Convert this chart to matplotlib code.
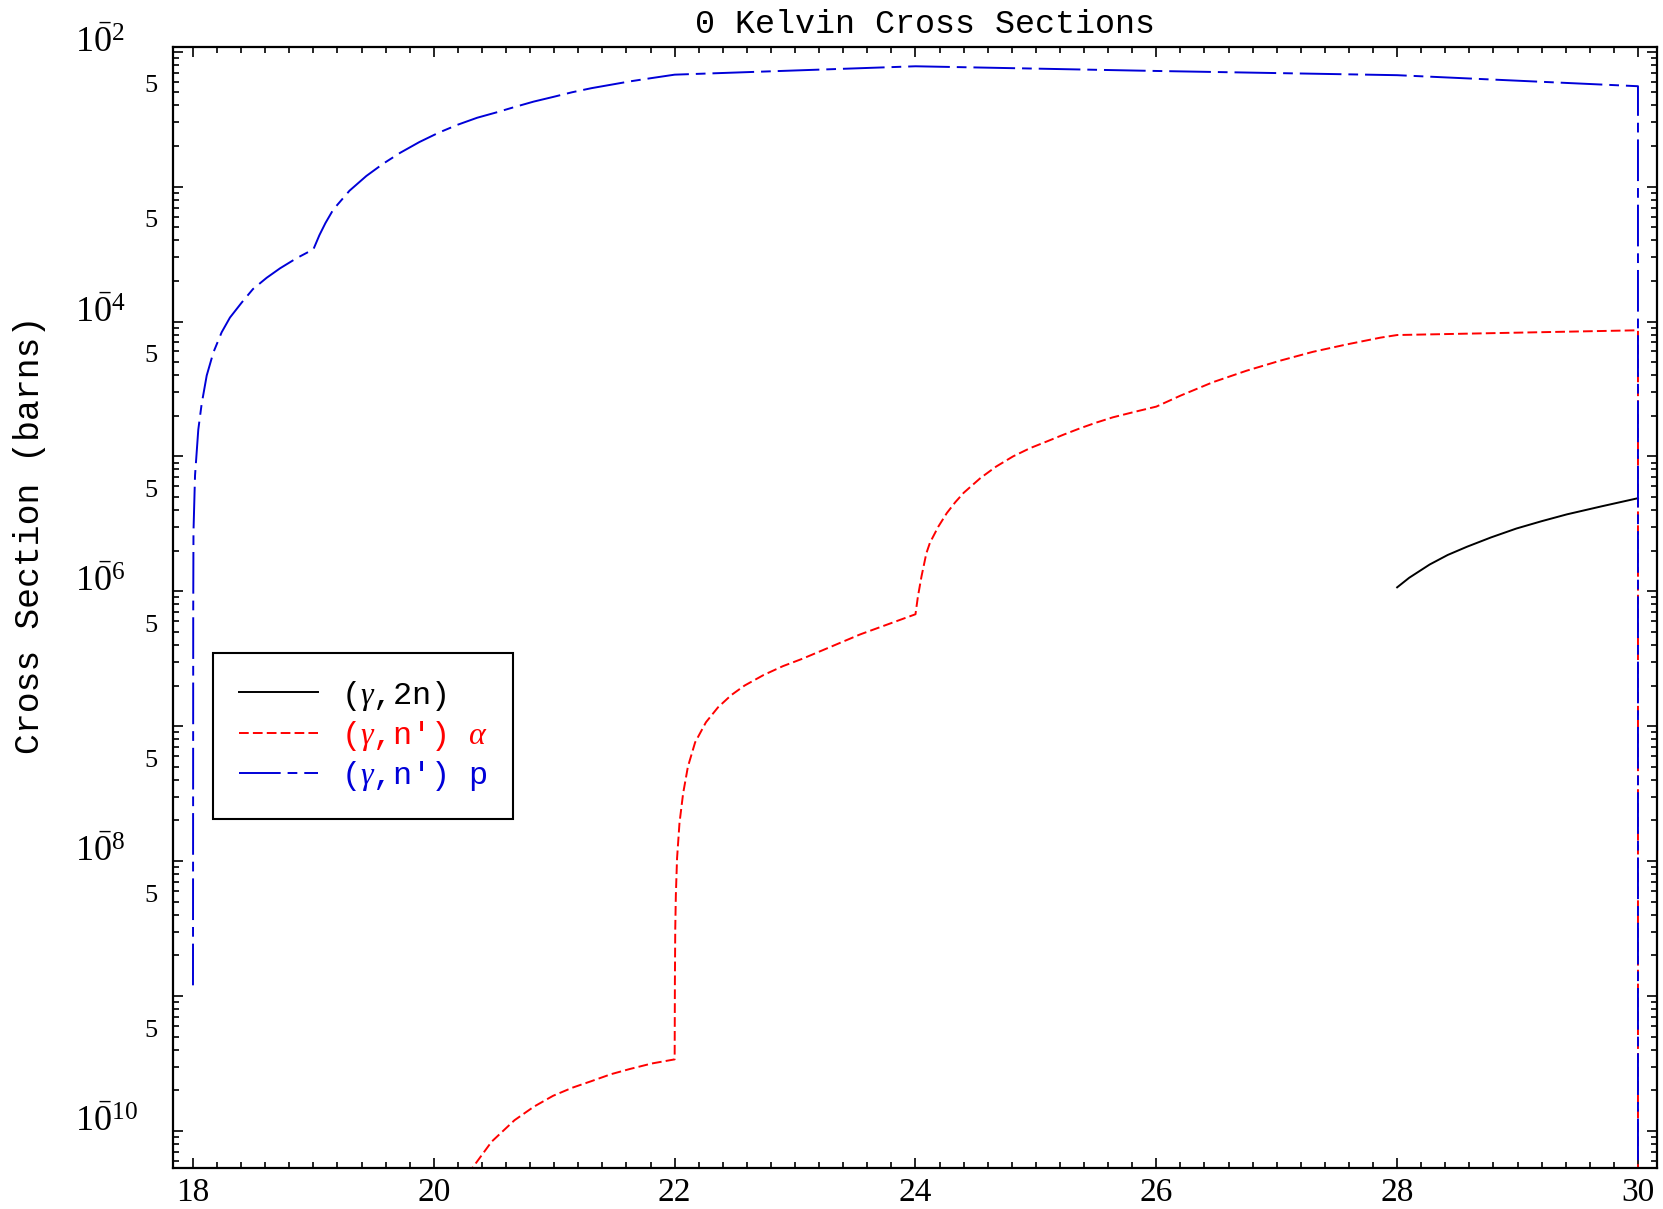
import matplotlib as mpl
mpl.use('Agg')
import matplotlib.pyplot as plt
import matplotlib.transforms as mtransforms
from matplotlib.ticker import LogLocator, MultipleLocator, NullFormatter, FixedLocator
import numpy as np

plt.rcdefaults()
plt.rcParams['mathtext.fontset'] = 'custom'
plt.rcParams['mathtext.it'] = 'Liberation Serif:italic'
plt.rcParams['mathtext.rm'] = 'Liberation Serif'
plt.rcParams['lines.scale_dashes'] = False

# photon energy vs cross section (barns)
x_2n = [28.0, 28.1, 28.27, 28.42, 28.58, 28.78, 28.99, 29.2, 29.41, 29.7, 30.0]
y_2n = [1.07e-6, 1.26e-6, 1.58e-6, 1.86e-6, 2.14e-6, 2.51e-6, 2.92e-6, 3.31e-6,
        3.72e-6, 4.27e-6, 4.90e-6]

x_alpha = [20.20, 20.32, 20.48, 20.67, 20.83, 20.99, 21.15, 21.31, 21.47, 21.63, 21.81, 22.00,
           22.002, 22.005, 22.01, 22.02, 22.04, 22.07, 22.11, 22.17, 22.26, 22.36, 22.47,
           22.58, 22.74, 22.90, 23.06, 23.22, 23.38, 23.54, 23.77, 24.00,
           24.02, 24.05, 24.09, 24.12, 24.19, 24.26, 24.33, 24.40, 24.54, 24.67, 24.81,
           24.95, 25.09, 25.23, 25.37, 25.50, 25.64, 25.82, 26.00,
           26.20, 26.47, 26.75, 27.03, 27.30, 27.58, 27.86, 28.00,
           30.00, 30.00]
y_alpha = [3.02e-11, 5.31e-11, 8.32e-11, 1.20e-10, 1.51e-10, 1.82e-10, 2.09e-10, 2.34e-10,
           2.63e-10, 2.88e-10, 3.16e-10, 3.39e-10,
           1.26e-9, 3.16e-9, 5.62e-9, 1.05e-8, 1.91e-8, 3.16e-8, 5.01e-8, 7.59e-8, 1.07e-7,
           1.38e-7, 1.70e-7, 2.00e-7, 2.40e-7, 2.79e-7, 3.16e-7, 3.63e-7, 4.17e-7, 4.79e-7,
           5.69e-7, 6.76e-7,
           9.12e-7, 1.29e-6, 1.91e-6, 2.29e-6, 3.02e-6, 3.80e-6, 4.57e-6, 5.37e-6, 6.92e-6,
           8.41e-6, 1.00e-5, 1.15e-5, 1.29e-5, 1.45e-5, 1.62e-5, 1.78e-5, 1.95e-5, 2.14e-5,
           2.34e-5,
           2.82e-5, 3.55e-5, 4.32e-5, 5.13e-5, 5.96e-5, 6.76e-5, 7.59e-5, 7.94e-5,
           8.61e-5, 1e-13]

x_p = [18.0, 18.002, 18.004, 18.017, 18.044, 18.072, 18.114, 18.169, 18.238,
       18.307, 18.404, 18.498, 18.612, 18.723, 18.861, 19.0,
       19.05, 19.10, 19.165, 19.30, 19.44, 19.58, 19.72, 19.88,
       20.04, 20.20, 20.36, 20.52, 20.67, 20.83, 20.99, 21.15, 21.31,
       21.47, 21.63, 21.81, 22.0,
       24.0, 26.0, 28.0, 30.0, 30.0]
y_p = [1.20e-9, 7.59e-7, 2.75e-6, 7.24e-6, 1.58e-5, 2.45e-5, 3.98e-5, 5.89e-5, 8.32e-5,
       1.07e-4, 1.38e-4, 1.74e-4, 2.11e-4, 2.48e-4, 2.95e-4, 3.43e-4,
       4.37e-4, 5.37e-4, 6.76e-4, 9.33e-4, 1.20e-3, 1.48e-3, 1.78e-3, 2.14e-3,
       2.51e-3, 2.88e-3, 3.24e-3, 3.55e-3, 3.89e-3, 4.27e-3, 4.62e-3, 5.01e-3, 5.37e-3,
       5.69e-3, 6.03e-3, 6.38e-3, 6.76e-3,
       7.8e-3, 7.2e-3, 6.7e-3, 5.55e-3, 1e-13]

labels = ['($\\gamma$,2n)', "($\\gamma$,n') $\\alpha$", "($\\gamma$,n') p"]
colors = ['black', '#ff0000', '#0000d8']

xmin, xmax = 17.834, 30.158
ymin, ymax = 10 ** -10.275, 10 ** -1.965

W, H = 1663, 1209
fig = plt.figure(figsize=(W / 100, H / 100), dpi=100)
ax = fig.add_axes([173 / W, 1 - 1168 / H, (1657 - 173) / W, (1168 - 47) / H])

ax.plot(x_2n, y_2n, color=colors[0], lw=1.4, label=labels[0])
ax.plot(x_alpha, y_alpha, color=colors[1], lw=1.4, linestyle=(0, (7, 3)), label=labels[1])
ax.plot(x_p, y_p, color=colors[2], lw=1.4, linestyle=(0, (30, 5, 7, 5)), label=labels[2])

ax.set_yscale('log')
ax.set_xlim(xmin, xmax)
ax.set_ylim(ymin, ymax)

ax.xaxis.set_major_locator(FixedLocator([18, 20, 22, 24, 26, 28, 30]))
ax.xaxis.set_minor_locator(MultipleLocator(0.2))
ax.yaxis.set_major_locator(LogLocator(base=10, numticks=30))
ax.yaxis.set_minor_locator(LogLocator(base=10, subs=np.arange(2, 10), numticks=30))
ax.yaxis.set_major_formatter(NullFormatter())
ax.yaxis.set_minor_formatter(NullFormatter())

ax.tick_params(which='both', direction='in', top=True, right=True, width=1.2)
ax.tick_params(which='major', length=7.5)
ax.tick_params(which='minor', length=4)
ax.tick_params(axis='x', labelsize=24, pad=7)
for lab in ax.get_xticklabels():
    lab.set_family('Liberation Serif')
for sp in ax.spines.values():
    sp.set_linewidth(1.6)

# IDL style log labels: 10^n on even decades, "5" inside each decade
ytrans = mtransforms.blended_transform_factory(ax.transAxes, ax.transData)
dec_trans = mtransforms.offset_copy(ytrans, fig=fig, x=-98, y=0, units='dots')
five_trans = mtransforms.offset_copy(ytrans, fig=fig, x=-16, y=0, units='dots')
for e in range(-10, -1, 2):
    ax.text(0, 10.0 ** e, '$\\mathregular{1\\bar{0}^{%d}}$' % (-e), fontsize=26,
            family='Liberation Serif', ha='left', va='baseline', transform=dec_trans)
for e in range(-10, -2):
    v = 5 * 10.0 ** e
    if ymin <= v <= ymax:
        ax.text(0, v, '5', fontsize=19, family='Liberation Serif', ha='right',
                va='baseline', transform=five_trans)

fig.text(925 / W, 1 - 33 / H, '0 Kelvin Cross Sections', fontsize=24,
         family='Liberation Mono', ha='center', va='baseline')
fig.text(30 / W, 1 - 535 / H, 'Cross Section (barns)', fontsize=25,
         family='Liberation Mono', rotation=90, ha='center', va='center')

leg = ax.legend(loc='upper left', bbox_to_anchor=(213 / W, 1 - 653 / H),
                bbox_transform=fig.transFigure, borderaxespad=0,
                prop={'family': 'Liberation Mono', 'size': 23},
                labelcolor='linecolor', fancybox=False, framealpha=1,
                edgecolor='black', handlelength=2.5, handletextpad=0.7,
                borderpad=0.8, labelspacing=0.2)
leg.get_frame().set_linewidth(1.5)

plt.savefig('out.png', dpi=100)
